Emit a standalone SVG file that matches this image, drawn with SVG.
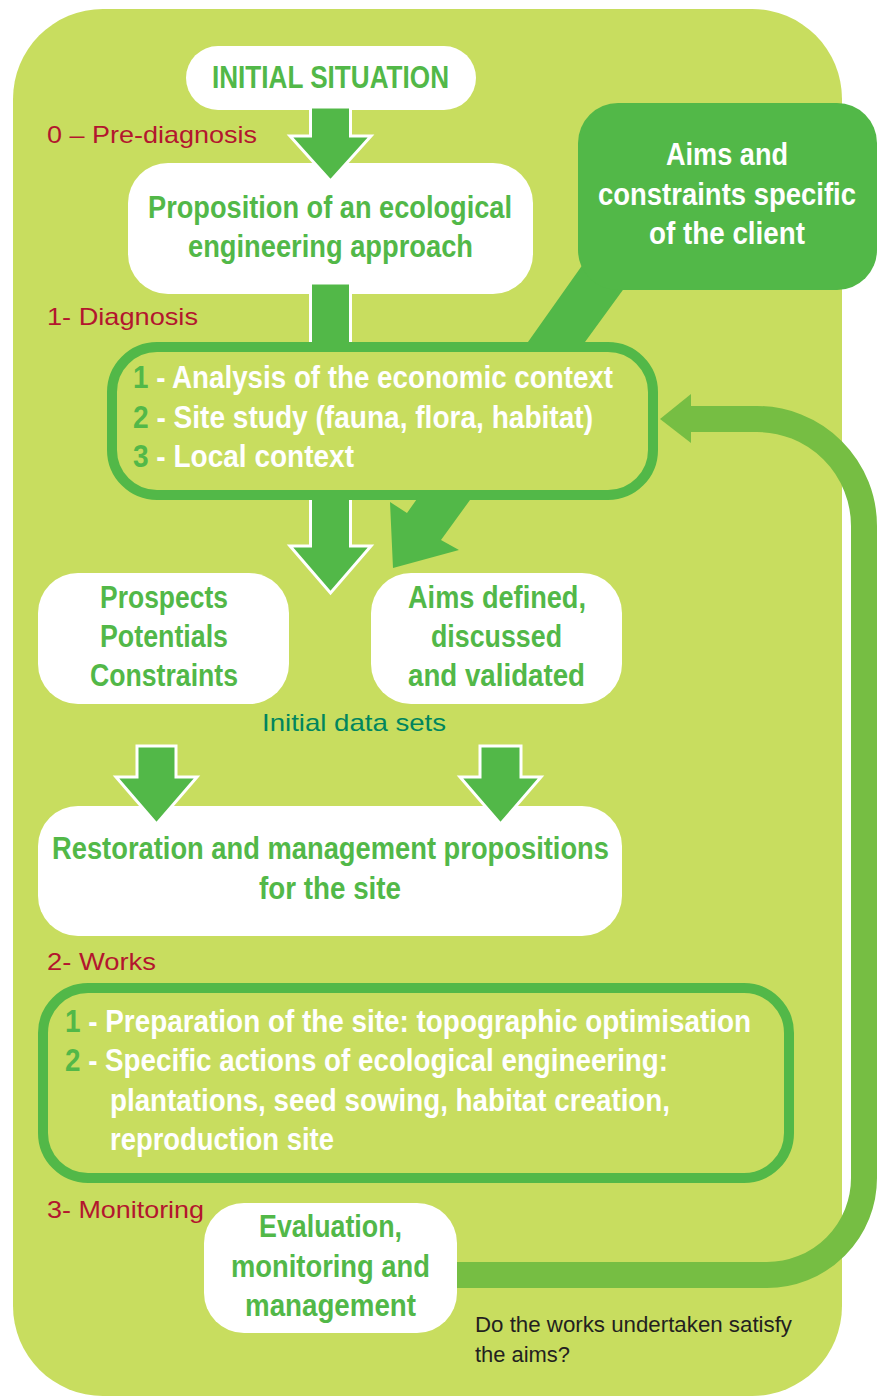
<svg xmlns="http://www.w3.org/2000/svg" width="881" height="1396" viewBox="0 0 881 1396">
<style>
.bg{fill:#C8DD5F}
.wbox{fill:#FFFFFF}
.gtxt{font-family:"Liberation Sans",Arial,sans-serif;font-weight:bold;fill:#52B848;font-size:31px}
.wtxt{font-family:"Liberation Sans",Arial,sans-serif;font-weight:bold;fill:#FFFFFF;font-size:31px}
.num{fill:#52B848}
.red{font-family:"Liberation Sans",Arial,sans-serif;fill:#B3162E;font-size:24px}
.teal{font-family:"Liberation Sans",Arial,sans-serif;fill:#00855E;font-size:24px}
.dark{font-family:"Liberation Sans",Arial,sans-serif;fill:#231F20;font-size:22px}
.warrow{fill:#52B848;stroke:#FFFFFF;stroke-width:3;stroke-linejoin:miter}
</style>
<rect class="bg" x="13" y="9" width="829" height="1387" rx="90"/>

<g id="connectors">
  <path id="loop" d="M 440 1275 H 767 A 97 97 0 0 0 864 1178 V 526 A 107 107 0 0 0 757 419 H 688" fill="none" stroke="#76BE43" stroke-width="26"/>
  <polygon id="loop-head" points="660,419 691,394 691,443" fill="#76BE43"/>
  <polygon id="client-arrow" points="593,250 652,250 470,500 441,540 459,550 393,568 390,502 407,513" fill="#52B848"/>
</g>

<g id="client">
  <rect x="578" y="103" width="299" height="187" rx="40" fill="#52B848"/>
  <text class="wtxt" x="727" y="165" text-anchor="middle" textLength="122" lengthAdjust="spacingAndGlyphs">Aims and</text>
  <text class="wtxt" x="727" y="205" text-anchor="middle" textLength="258" lengthAdjust="spacingAndGlyphs">constraints specific</text>
  <text class="wtxt" x="727" y="244" text-anchor="middle" textLength="156" lengthAdjust="spacingAndGlyphs">of the client</text>
</g>

<g id="initial">
  <rect class="wbox" x="186" y="46" width="290" height="64" rx="32"/>
  <text class="gtxt" x="330.5" y="88" text-anchor="middle" font-size="33" textLength="237" lengthAdjust="spacingAndGlyphs">INITIAL SITUATION</text>
</g>

<g id="proposition">
  <rect class="wbox" x="128" y="163" width="405" height="131" rx="40"/>
  <text class="gtxt" x="330" y="218" text-anchor="middle" textLength="364" lengthAdjust="spacingAndGlyphs">Proposition of an ecological</text>
  <text class="gtxt" x="330.5" y="257" text-anchor="middle" textLength="285" lengthAdjust="spacingAndGlyphs">engineering approach</text>
</g>

<g id="prospects">
  <rect class="wbox" x="38" y="573" width="251" height="131" rx="40"/>
  <text class="gtxt" x="164" y="608" text-anchor="middle" textLength="128" lengthAdjust="spacingAndGlyphs">Prospects</text>
  <text class="gtxt" x="164" y="647" text-anchor="middle" textLength="128" lengthAdjust="spacingAndGlyphs">Potentials</text>
  <text class="gtxt" x="164" y="686" text-anchor="middle" textLength="148" lengthAdjust="spacingAndGlyphs">Constraints</text>
</g>

<g id="aims-defined">
  <rect class="wbox" x="371" y="573" width="251" height="131" rx="40"/>
  <text class="gtxt" x="497" y="608" text-anchor="middle" textLength="178" lengthAdjust="spacingAndGlyphs">Aims defined,</text>
  <text class="gtxt" x="496.5" y="647" text-anchor="middle" textLength="131" lengthAdjust="spacingAndGlyphs">discussed</text>
  <text class="gtxt" x="496.5" y="686" text-anchor="middle" textLength="177" lengthAdjust="spacingAndGlyphs">and validated</text>
</g>

<g id="restoration">
  <rect class="wbox" x="38" y="806" width="584" height="130" rx="40"/>
  <text class="gtxt" x="330.5" y="859" text-anchor="middle" textLength="557" lengthAdjust="spacingAndGlyphs">Restoration and management propositions</text>
  <text class="gtxt" x="330" y="899" text-anchor="middle" textLength="142" lengthAdjust="spacingAndGlyphs">for the site</text>
</g>

<g id="evaluation">
  <rect class="wbox" x="204" y="1203" width="253" height="130" rx="40"/>
  <text class="gtxt" x="330.5" y="1237" text-anchor="middle" textLength="143" lengthAdjust="spacingAndGlyphs">Evaluation,</text>
  <text class="gtxt" x="330.5" y="1277" text-anchor="middle" textLength="199" lengthAdjust="spacingAndGlyphs">monitoring and</text>
  <text class="gtxt" x="330.5" y="1316" text-anchor="middle" textLength="171" lengthAdjust="spacingAndGlyphs">management</text>
</g>

<g id="flow-arrows">
  <polygon class="warrow" points="310.5,107 350.5,107 350.5,136 371,136 330.5,181 290,136 310.5,136"/>
  <polygon class="warrow" points="310.5,283 350.5,283 350.5,546 371,546 330.5,593 290,546 310.5,546"/>
  <polygon class="warrow" points="137,746 176,746 176,777 197,777 156.5,824 116,777 137,777"/>
  <polygon class="warrow" points="480,746 521,746 521,777 541,777 500.5,824 460,777 480,777"/>
</g>

<g id="diagnosis">
  <rect x="112" y="347" width="541" height="148" rx="45" fill="#C8DD5F" stroke="#52B848" stroke-width="10"/>
  <text class="wtxt" x="133" y="388" textLength="480" lengthAdjust="spacingAndGlyphs"><tspan class="num">1</tspan> - Analysis of the economic context</text>
  <text class="wtxt" x="133" y="428" textLength="460" lengthAdjust="spacingAndGlyphs"><tspan class="num">2</tspan> - Site study (fauna, flora, habitat)</text>
  <text class="wtxt" x="133" y="467" textLength="221" lengthAdjust="spacingAndGlyphs"><tspan class="num">3</tspan> - Local context</text>
</g>

<g id="works">
  <rect x="43" y="988" width="746" height="190" rx="45" fill="none" stroke="#52B848" stroke-width="10"/>
  <text class="wtxt" x="65" y="1032" textLength="686" lengthAdjust="spacingAndGlyphs"><tspan class="num">1</tspan> - Preparation of the site: topographic optimisation</text>
  <text class="wtxt" x="65" y="1071" textLength="603" lengthAdjust="spacingAndGlyphs"><tspan class="num">2</tspan> - Specific actions of ecological engineering:</text>
  <text class="wtxt" x="110" y="1111" textLength="560" lengthAdjust="spacingAndGlyphs">plantations, seed sowing, habitat creation,</text>
  <text class="wtxt" x="110" y="1150" textLength="224" lengthAdjust="spacingAndGlyphs">reproduction site</text>
</g>

<g id="labels">
  <text class="red" x="47" y="143" textLength="210" lengthAdjust="spacingAndGlyphs">0 – Pre-diagnosis</text>
  <text class="red" x="47" y="325" textLength="151" lengthAdjust="spacingAndGlyphs">1- Diagnosis</text>
  <text class="red" x="47" y="970" textLength="109" lengthAdjust="spacingAndGlyphs">2- Works</text>
  <text class="red" x="47" y="1218" textLength="157" lengthAdjust="spacingAndGlyphs">3- Monitoring</text>
  <text class="teal" x="262" y="731" textLength="184" lengthAdjust="spacingAndGlyphs">Initial data sets</text>
  <text class="dark" x="475" y="1332" textLength="317" lengthAdjust="spacingAndGlyphs">Do the works undertaken satisfy</text>
  <text class="dark" x="475" y="1362" textLength="95" lengthAdjust="spacingAndGlyphs">the aims?</text>
</g>
</svg>
